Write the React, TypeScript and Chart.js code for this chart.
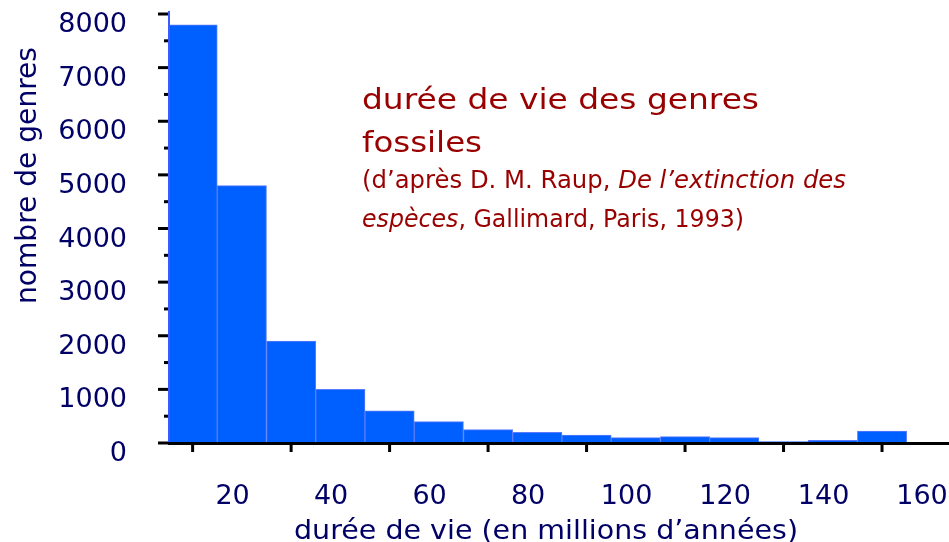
import React, { useEffect, useRef } from "react";
import { Chart, registerables } from "chart.js";

Chart.register(...registerables);

// ---- data ----
const binCenters = [5, 15, 25, 35, 45, 55, 65, 75, 85, 95, 105, 115, 125, 135, 145];
const genusCounts = [7800, 4800, 1900, 1000, 600, 400, 250, 200, 150, 100, 120, 100, 25, 50, 220];
const xTickValues = [5, 25, 45, 65, 85, 105, 125, 145];
const xTickLabels = ["20", "40", "60", "80", "100", "120", "140", "160"];
const yTickLabels = ["0", "1000", "2000", "3000", "4000", "5000", "6000", "7000", "8000"];
const yMin = 0;
const yMax = 8000;
const yStep = 1000;
const xMin = 0;
const xMax = 158.6;

const titleLine1 = "durée de vie des genres";
const titleLine2 = "fossiles";
const sourceLine1a = "(d’après D. M. Raup, ";
const sourceLine1b = "De l’extinction des";
const sourceLine2a = "espèces";
const sourceLine2b = ", Gallimard, Paris, 1993)";
const xTitle = "durée de vie (en millions d’années)";
const yTitle = "nombre de genres";

const NAVY = "#000066";
const DARK_RED = "#990000";
const BAR_FILL = "#0060ff";
const BAR_EDGE = "#5c7cff";
const AXIS_BLUE = "#3a5cff";
const FAMILY = "'DejaVu Sans', sans-serif";

type Run = { text: string; font: string };

function drawRuns(ctx: CanvasRenderingContext2D, runs: Run[], x: number, baseline: number, width: number, color: string, rotate = false) {
  ctx.save();
  let total = 0;
  runs.forEach((r) => {
    ctx.font = r.font;
    total += ctx.measureText(r.text).width;
  });
  const sx = width / total;
  ctx.translate(x, baseline);
  if (rotate) ctx.rotate(-Math.PI / 2);
  ctx.scale(sx, 1);
  ctx.fillStyle = color;
  ctx.textBaseline = "alphabetic";
  ctx.textAlign = "left";
  let cx = 0;
  runs.forEach((r) => {
    ctx.font = r.font;
    ctx.fillText(r.text, cx, 0);
    cx += ctx.measureText(r.text).width;
  });
  ctx.restore();
}

const decorPlugin = {
  id: "decor",
  afterDatasetsDraw(chart: any) {
    const { ctx, chartArea, scales } = chart;
    const x = scales.x;
    const y = scales.y;
    ctx.save();
    ctx.strokeStyle = AXIS_BLUE;
    ctx.lineWidth = 2;
    ctx.beginPath();
    ctx.moveTo(chartArea.left + 1, chartArea.top - 3);
    ctx.lineTo(chartArea.left + 1, chartArea.bottom);
    ctx.stroke();
    ctx.fillStyle = "#000";
    const yt = y.ticks;
    yt.forEach((t: any) => {
      const py = y.getPixelForValue(t.value);
      ctx.fillRect(chartArea.left - 10, py - 1.5, 10, 3);
    });
    for (let i = 0; i < yt.length - 1; i++) {
      const mid = (yt[i].value + yt[i + 1].value) / 2;
      const py = y.getPixelForValue(mid);
      ctx.fillRect(chartArea.left - 4, py - 1.5, 4, 3);
    }
    ctx.fillRect(chartArea.left, chartArea.bottom - 1, chartArea.right - chartArea.left, 3);
    x.ticks.forEach((t: any) => {
      const px = x.getPixelForValue(t.value);
      ctx.fillRect(px - 1.5, chartArea.bottom, 3, 9);
    });
    ctx.restore();
  },
  afterDraw(chart: any) {
    const ctx = chart.ctx as CanvasRenderingContext2D;
    const big = `29px ${FAMILY}`;
    const small = `24px ${FAMILY}`;
    const smallIt = `italic 24px ${FAMILY}`;
    drawRuns(ctx, [{ text: titleLine1, font: big }], 362, 109, 397, DARK_RED);
    drawRuns(ctx, [{ text: titleLine2, font: big }], 362, 152, 120, DARK_RED);
    drawRuns(ctx, [{ text: sourceLine1a, font: small }, { text: sourceLine1b, font: smallIt }], 362, 188, 484, DARK_RED);
    drawRuns(ctx, [{ text: sourceLine2a, font: smallIt }, { text: sourceLine2b, font: small }], 362, 227, 382, DARK_RED);
    drawRuns(ctx, [{ text: xTitle, font: `27px ${FAMILY}` }], 294, 539, 504, NAVY);
    drawRuns(ctx, [{ text: yTitle, font: `28px ${FAMILY}` }], 36, 304, 257, NAVY, true);
  },
};

export default function App() {
  const canvasRef = useRef<HTMLCanvasElement | null>(null);

  useEffect(() => {
    document.body.style.margin = "0";
    const canvas = canvasRef.current;
    if (!canvas) return;
    const chart = new Chart(canvas, {
      type: "bar",
      data: {
        datasets: [
          {
            data: binCenters.map((c, i) => ({ x: c, y: genusCounts[i] })),
            backgroundColor: BAR_FILL,
            borderColor: BAR_EDGE,
            borderWidth: 1,
            barPercentage: 1,
            categoryPercentage: 1,
          },
        ],
      },
      options: {
        animation: false,
        responsive: false,
        devicePixelRatio: 1,
        layout: { padding: { top: 14, left: 0, right: 0, bottom: 0 } },
        plugins: { legend: { display: false }, tooltip: { enabled: false }, title: { display: false } },
        scales: {
          x: {
            type: "linear",
            min: xMin,
            max: xMax,
            offset: false,
            border: { display: false },
            grid: { display: true, offset: false, drawOnChartArea: false, drawTicks: true, tickLength: 40, tickColor: "rgba(0,0,0,0)", color: "rgba(0,0,0,0)" },
            afterBuildTicks: (scale: any) => {
              scale.ticks = xTickValues.map((v) => ({ value: v }));
            },
            afterFit: (scale: any) => {
              scale.height = 99;
            },
            ticks: {
              autoSkip: false,
              maxRotation: 0,
              minRotation: 0,
              padding: 0,
              labelOffset: 40,
              color: NAVY,
              font: { family: FAMILY, size: 27, lineHeight: 1 },
              callback: (_v: any, i: number) => xTickLabels[i],
            },
          },
          y: {
            type: "linear",
            min: yMin,
            max: yMax,
            border: { display: false },
            grid: { display: true, drawOnChartArea: false, drawTicks: true, tickLength: 41, tickColor: "rgba(0,0,0,0)", color: "rgba(0,0,0,0)" },
            afterFit: (scale: any) => {
              scale.width = 168;
            },
            ticks: {
              stepSize: yStep,
              autoSkip: false,
              padding: 0,
              labelOffset: 11,
              color: NAVY,
              font: { family: FAMILY, size: 27, lineHeight: 1 },
              callback: (_v: any, i: number) => yTickLabels[i],
            },
          },
        },
      } as any,
      plugins: [decorPlugin],
    });
    return () => chart.destroy();
  }, []);

  return (
    <div style={{ width: 949, height: 542, position: "relative" }}>
      <canvas ref={canvasRef} width={949} height={542} style={{ display: "block", width: 949, height: 542 }} />
    </div>
  );
}
